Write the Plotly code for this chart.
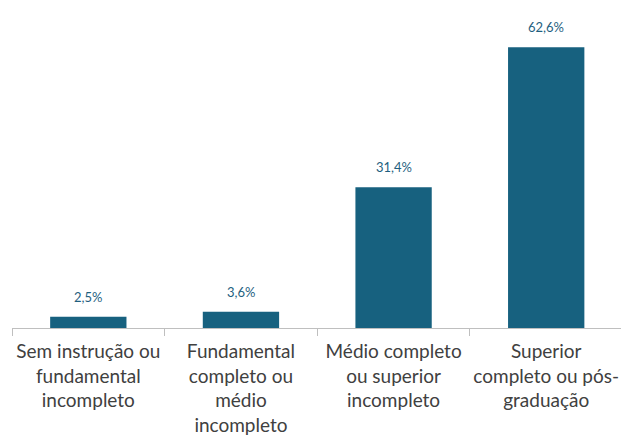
import plotly.graph_objects as go

categories = [
    "Sem instrução ou<br>fundamental<br>incompleto",
    "Fundamental<br>completo ou<br>médio<br>incompleto",
    "Médio completo<br>ou superior<br>incompleto",
    "Superior<br>completo ou pós-<br>graduação",
]
values = [2.5, 3.6, 31.4, 62.6]
labels = ["2,5%", "3,6%", "31,4%", "62,6%"]

bar_color = "#17617f"

fig = go.Figure()
fig.add_trace(go.Bar(x=categories, y=values, marker_color=bar_color, width=0.5,
                     marker_line_width=0, hoverinfo="skip"))
for c, v, t in zip(categories, values, labels):
    fig.add_annotation(x=c, y=v, text=t, showarrow=False, yanchor="bottom", yshift=10,
                       font=dict(size=13, color="#1f5f7f", family="Lato"))

fig.update_layout(
    width=621, height=439,
    margin=dict(l=12, r=0, t=14, b=111, autoexpand=False),
    plot_bgcolor="white", paper_bgcolor="white",
    showlegend=False,
    font=dict(family="Lato", size=19, color="#404040"),
)
fig.update_xaxes(
    type="category", range=[-0.5, 3.49], tickson="boundaries",
    ticks="outside", ticklen=7, tickcolor="#bfbfbf", tickwidth=1, tickangle=0,
    ticklabelstandoff=6, ticklabeloverflow="allow",
    showline=True, linecolor="#bfbfbf", linewidth=1, automargin=False,
    showgrid=False, tickfont=dict(size=19, color="#404040"),
)
fig.update_yaxes(range=[0, 70], visible=False, showgrid=False)

fig.write_html(
    "out.html",
    config={"displayModeBar": False},
    post_script="document.body.style.margin='0';document.body.style.overflow='hidden';",
)
